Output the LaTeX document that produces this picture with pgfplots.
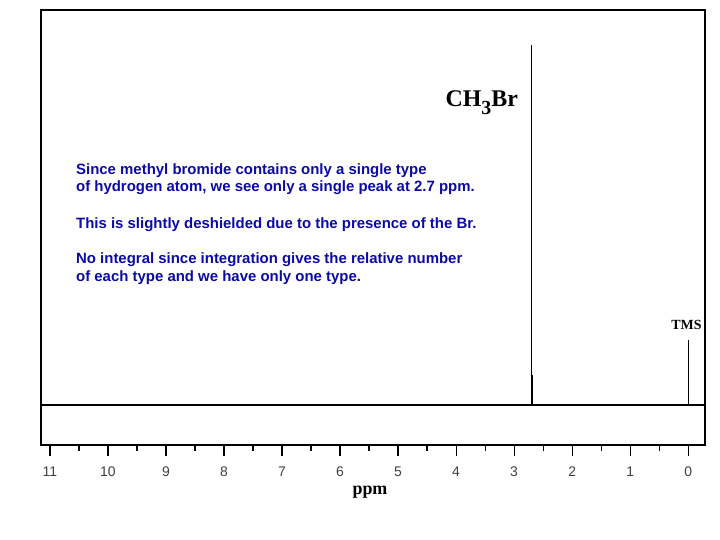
\documentclass[border=0pt]{standalone}
\usepackage{fontspec}
\setmainfont{Liberation Serif}
\setsansfont{Liberation Sans}
\usepackage{pgfplots}
\pgfplotsset{compat=1.18}
\definecolor{noteblue}{RGB}{10,10,165}
\begin{document}
\begin{tikzpicture}
\begin{axis}[
  at={(41bp,95bp)}, anchor=south west,
  scale only axis, width=664bp, height=435bp,
  xmin=-0.29, xmax=11.155, x dir=reverse,
  ymin=0, ymax=435,
  xtick={0,...,11}, minor xtick={0.5,1.5,...,10.5},
  ytick=\empty,
  xtick pos=bottom, tick align=outside,
  major tick length=11bp, minor tick length=6bp,
  tick style={black, line width=1.2bp},
  axis line style={line width=1.5bp},
  /pgf/number format/assume math mode=true,
  xticklabel style={font=\sffamily\fontsize{14}{14}\selectfont, text=black!75, yshift=-7bp},
  xlabel={\bfseries ppm},
  xlabel style={font=\fontsize{18}{18}\selectfont, yshift=-3bp, xshift=-3bp},
  clip=false,
]
% baseline and the two singlets
\addplot[black, line width=2bp] coordinates {(11.155,40) (-0.29,40)};
\addplot[black, line width=1bp] coordinates {(2.7,40) (2.7,400)};
\addplot[black, line width=2bp] coordinates {(2.7,40) (2.7,70)};
\addplot[black, line width=1bp] coordinates {(0,40) (0,105)};

\node[anchor=base east, inner sep=0pt, font=\bfseries\fontsize{24}{24}\selectfont]
  at (axis cs:2.93,338) {CH\raisebox{-0.3em}{\fontsize{20}{20}\selectfont 3}Br};
\node[anchor=base, inner sep=0pt, font=\bfseries\fontsize{14}{14}\selectfont]
  at (axis cs:0.03,115) {TMS};

\begin{scope}[every node/.style={anchor=base west, inner sep=0pt, text=noteblue,
    font=\sffamily\bfseries\fontsize{15}{15}\selectfont}]
\node at (axis cs:10.552,270) {Since methyl bromide contains only a single type};
\node at (axis cs:10.552,253) {of hydrogen atom, we see only a single peak at 2.7 ppm.};
\node at (axis cs:10.552,216) {This is slightly deshielded due to the presence of the Br.};
\node at (axis cs:10.552,181) {No integral since integration gives the relative number};
\node at (axis cs:10.552,163) {of each type and we have only one type.};
\end{scope}
\end{axis}
\pgfresetboundingbox
\path[use as bounding box] (0,0) rectangle (720bp,540bp);
\end{tikzpicture}
\end{document}
